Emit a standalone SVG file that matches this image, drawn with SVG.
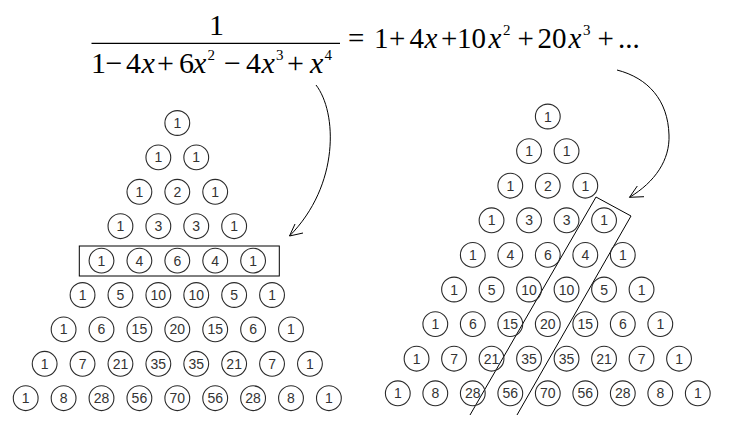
<svg xmlns="http://www.w3.org/2000/svg" width="729" height="427" viewBox="0 0 729 427">
<style>
.n circle{fill:none;stroke:#2a2a2a;stroke-width:1.1}
.n text{font-family:"Liberation Sans",Arial,sans-serif;font-size:14px;fill:#333;text-anchor:middle}
.m{font-family:"Liberation Serif","Times New Roman",serif;font-size:30px;fill:#000}
.r{font-family:"Liberation Serif","Times New Roman",serif;font-size:29px;fill:#000}
.i{font-style:italic}
.s{font-size:15px}
.ln{fill:none;stroke:#000;stroke-width:1}
</style>
<rect width="729" height="427" fill="#fff"/>
<g id="formula">
<text class="m" x="216.5" y="35" text-anchor="middle">1</text>
<line x1="91.5" y1="43.3" x2="340" y2="43.3" stroke="#000" stroke-width="1.3"/>
<text class="m" y="73.3"><tspan x="91">1</tspan><tspan x="105.5">−</tspan><tspan x="126">4</tspan><tspan x="141.5" class="i">x</tspan><tspan x="157">+</tspan><tspan x="179">6</tspan><tspan x="193" class="i">x</tspan><tspan x="207.5" y="60" class="s">2</tspan><tspan x="224" y="73.3">−</tspan><tspan x="246">4</tspan><tspan x="261.5" class="i">x</tspan><tspan x="276" y="60" class="s">3</tspan><tspan x="287" y="73.3">+</tspan><tspan x="310" class="i">x</tspan><tspan x="324.5" y="60" class="s">4</tspan></text>
<text class="r" y="47.5"><tspan x="348">=</tspan><tspan x="374">1</tspan><tspan x="389">+</tspan><tspan x="409.5">4</tspan><tspan x="424.5" class="i">x</tspan><tspan x="441">+</tspan><tspan x="457">10</tspan><tspan x="488.5" class="i">x</tspan><tspan x="503" y="34.5" class="s">2</tspan><tspan x="517.5" y="47.5">+</tspan><tspan x="537.5">20</tspan><tspan x="568.5" class="i">x</tspan><tspan x="583" y="34.5" class="s">3</tspan><tspan x="597.5" y="47.5">+</tspan><tspan x="618">...</tspan></text>
</g>
<g id="connectors">
<rect class="ln" x="79.3" y="246" width="200" height="30"/>
<polyline class="ln" points="470,415 596,197 631,216 517,415"/>
<path class="ln" d="M316,85 C337,112 340,185 289.5,236"/>
<polyline class="ln" points="295,224 289.5,236 303,233"/>
<path class="ln" d="M617,70 C648,78 668,100 669,135 C670,160 655,182 629.5,197.3"/>
<polyline class="ln" points="637.3,186 629.5,197.3 644,196.7"/>
</g>
<g id="left-triangle">
<g id="L0-0" class="n" transform="translate(177.3,123)"><circle r="12.4"/><text y="5">1</text></g>
<g id="L1-0" class="n" transform="translate(158.35,157.4)"><circle r="12.4"/><text y="5">1</text></g>
<g id="L1-1" class="n" transform="translate(196.25,157.4)"><circle r="12.4"/><text y="5">1</text></g>
<g id="L2-0" class="n" transform="translate(139.4,191.8)"><circle r="12.4"/><text y="5">1</text></g>
<g id="L2-1" class="n" transform="translate(177.3,191.8)"><circle r="12.4"/><text y="5">2</text></g>
<g id="L2-2" class="n" transform="translate(215.2,191.8)"><circle r="12.4"/><text y="5">1</text></g>
<g id="L3-0" class="n" transform="translate(120.45,226.2)"><circle r="12.4"/><text y="5">1</text></g>
<g id="L3-1" class="n" transform="translate(158.35,226.2)"><circle r="12.4"/><text y="5">3</text></g>
<g id="L3-2" class="n" transform="translate(196.25,226.2)"><circle r="12.4"/><text y="5">3</text></g>
<g id="L3-3" class="n" transform="translate(234.15,226.2)"><circle r="12.4"/><text y="5">1</text></g>
<g id="L4-0" class="n" transform="translate(101.5,260.6)"><circle r="12.4"/><text y="5">1</text></g>
<g id="L4-1" class="n" transform="translate(139.4,260.6)"><circle r="12.4"/><text y="5">4</text></g>
<g id="L4-2" class="n" transform="translate(177.3,260.6)"><circle r="12.4"/><text y="5">6</text></g>
<g id="L4-3" class="n" transform="translate(215.2,260.6)"><circle r="12.4"/><text y="5">4</text></g>
<g id="L4-4" class="n" transform="translate(253.1,260.6)"><circle r="12.4"/><text y="5">1</text></g>
<g id="L5-0" class="n" transform="translate(82.55,295)"><circle r="12.4"/><text y="5">1</text></g>
<g id="L5-1" class="n" transform="translate(120.45,295)"><circle r="12.4"/><text y="5">5</text></g>
<g id="L5-2" class="n" transform="translate(158.35,295)"><circle r="12.4"/><text y="5">10</text></g>
<g id="L5-3" class="n" transform="translate(196.25,295)"><circle r="12.4"/><text y="5">10</text></g>
<g id="L5-4" class="n" transform="translate(234.15,295)"><circle r="12.4"/><text y="5">5</text></g>
<g id="L5-5" class="n" transform="translate(272.05,295)"><circle r="12.4"/><text y="5">1</text></g>
<g id="L6-0" class="n" transform="translate(63.6,329.4)"><circle r="12.4"/><text y="5">1</text></g>
<g id="L6-1" class="n" transform="translate(101.5,329.4)"><circle r="12.4"/><text y="5">6</text></g>
<g id="L6-2" class="n" transform="translate(139.4,329.4)"><circle r="12.4"/><text y="5">15</text></g>
<g id="L6-3" class="n" transform="translate(177.3,329.4)"><circle r="12.4"/><text y="5">20</text></g>
<g id="L6-4" class="n" transform="translate(215.2,329.4)"><circle r="12.4"/><text y="5">15</text></g>
<g id="L6-5" class="n" transform="translate(253.1,329.4)"><circle r="12.4"/><text y="5">6</text></g>
<g id="L6-6" class="n" transform="translate(291,329.4)"><circle r="12.4"/><text y="5">1</text></g>
<g id="L7-0" class="n" transform="translate(44.65,363.8)"><circle r="12.4"/><text y="5">1</text></g>
<g id="L7-1" class="n" transform="translate(82.55,363.8)"><circle r="12.4"/><text y="5">7</text></g>
<g id="L7-2" class="n" transform="translate(120.45,363.8)"><circle r="12.4"/><text y="5">21</text></g>
<g id="L7-3" class="n" transform="translate(158.35,363.8)"><circle r="12.4"/><text y="5">35</text></g>
<g id="L7-4" class="n" transform="translate(196.25,363.8)"><circle r="12.4"/><text y="5">35</text></g>
<g id="L7-5" class="n" transform="translate(234.15,363.8)"><circle r="12.4"/><text y="5">21</text></g>
<g id="L7-6" class="n" transform="translate(272.05,363.8)"><circle r="12.4"/><text y="5">7</text></g>
<g id="L7-7" class="n" transform="translate(309.95,363.8)"><circle r="12.4"/><text y="5">1</text></g>
<g id="L8-0" class="n" transform="translate(25.7,398.2)"><circle r="12.4"/><text y="5">1</text></g>
<g id="L8-1" class="n" transform="translate(63.6,398.2)"><circle r="12.4"/><text y="5">8</text></g>
<g id="L8-2" class="n" transform="translate(101.5,398.2)"><circle r="12.4"/><text y="5">28</text></g>
<g id="L8-3" class="n" transform="translate(139.4,398.2)"><circle r="12.4"/><text y="5">56</text></g>
<g id="L8-4" class="n" transform="translate(177.3,398.2)"><circle r="12.4"/><text y="5">70</text></g>
<g id="L8-5" class="n" transform="translate(215.2,398.2)"><circle r="12.4"/><text y="5">56</text></g>
<g id="L8-6" class="n" transform="translate(253.1,398.2)"><circle r="12.4"/><text y="5">28</text></g>
<g id="L8-7" class="n" transform="translate(291,398.2)"><circle r="12.4"/><text y="5">8</text></g>
<g id="L8-8" class="n" transform="translate(328.9,398.2)"><circle r="12.4"/><text y="5">1</text></g>
</g>
<g id="right-triangle">
<g id="R0-0" class="n" transform="translate(547.8,116.5)"><circle r="12.4"/><text y="5">1</text></g>
<g id="R1-0" class="n" transform="translate(529.05,151.1)"><circle r="12.4"/><text y="5">1</text></g>
<g id="R1-1" class="n" transform="translate(566.55,151.1)"><circle r="12.4"/><text y="5">1</text></g>
<g id="R2-0" class="n" transform="translate(510.3,185.7)"><circle r="12.4"/><text y="5">1</text></g>
<g id="R2-1" class="n" transform="translate(547.8,185.7)"><circle r="12.4"/><text y="5">2</text></g>
<g id="R2-2" class="n" transform="translate(585.3,185.7)"><circle r="12.4"/><text y="5">1</text></g>
<g id="R3-0" class="n" transform="translate(491.55,220.3)"><circle r="12.4"/><text y="5">1</text></g>
<g id="R3-1" class="n" transform="translate(529.05,220.3)"><circle r="12.4"/><text y="5">3</text></g>
<g id="R3-2" class="n" transform="translate(566.55,220.3)"><circle r="12.4"/><text y="5">3</text></g>
<g id="R3-3" class="n" transform="translate(604.05,220.3)"><circle r="12.4"/><text y="5">1</text></g>
<g id="R4-0" class="n" transform="translate(472.8,254.9)"><circle r="12.4"/><text y="5">1</text></g>
<g id="R4-1" class="n" transform="translate(510.3,254.9)"><circle r="12.4"/><text y="5">4</text></g>
<g id="R4-2" class="n" transform="translate(547.8,254.9)"><circle r="12.4"/><text y="5">6</text></g>
<g id="R4-3" class="n" transform="translate(585.3,254.9)"><circle r="12.4"/><text y="5">4</text></g>
<g id="R4-4" class="n" transform="translate(622.8,254.9)"><circle r="12.4"/><text y="5">1</text></g>
<g id="R5-0" class="n" transform="translate(454.05,289.5)"><circle r="12.4"/><text y="5">1</text></g>
<g id="R5-1" class="n" transform="translate(491.55,289.5)"><circle r="12.4"/><text y="5">5</text></g>
<g id="R5-2" class="n" transform="translate(529.05,289.5)"><circle r="12.4"/><text y="5">10</text></g>
<g id="R5-3" class="n" transform="translate(566.55,289.5)"><circle r="12.4"/><text y="5">10</text></g>
<g id="R5-4" class="n" transform="translate(604.05,289.5)"><circle r="12.4"/><text y="5">5</text></g>
<g id="R5-5" class="n" transform="translate(641.55,289.5)"><circle r="12.4"/><text y="5">1</text></g>
<g id="R6-0" class="n" transform="translate(435.3,324.1)"><circle r="12.4"/><text y="5">1</text></g>
<g id="R6-1" class="n" transform="translate(472.8,324.1)"><circle r="12.4"/><text y="5">6</text></g>
<g id="R6-2" class="n" transform="translate(510.3,324.1)"><circle r="12.4"/><text y="5">15</text></g>
<g id="R6-3" class="n" transform="translate(547.8,324.1)"><circle r="12.4"/><text y="5">20</text></g>
<g id="R6-4" class="n" transform="translate(585.3,324.1)"><circle r="12.4"/><text y="5">15</text></g>
<g id="R6-5" class="n" transform="translate(622.8,324.1)"><circle r="12.4"/><text y="5">6</text></g>
<g id="R6-6" class="n" transform="translate(660.3,324.1)"><circle r="12.4"/><text y="5">1</text></g>
<g id="R7-0" class="n" transform="translate(416.55,358.7)"><circle r="12.4"/><text y="5">1</text></g>
<g id="R7-1" class="n" transform="translate(454.05,358.7)"><circle r="12.4"/><text y="5">7</text></g>
<g id="R7-2" class="n" transform="translate(491.55,358.7)"><circle r="12.4"/><text y="5">21</text></g>
<g id="R7-3" class="n" transform="translate(529.05,358.7)"><circle r="12.4"/><text y="5">35</text></g>
<g id="R7-4" class="n" transform="translate(566.55,358.7)"><circle r="12.4"/><text y="5">35</text></g>
<g id="R7-5" class="n" transform="translate(604.05,358.7)"><circle r="12.4"/><text y="5">21</text></g>
<g id="R7-6" class="n" transform="translate(641.55,358.7)"><circle r="12.4"/><text y="5">7</text></g>
<g id="R7-7" class="n" transform="translate(679.05,358.7)"><circle r="12.4"/><text y="5">1</text></g>
<g id="R8-0" class="n" transform="translate(397.8,393.3)"><circle r="12.4"/><text y="5">1</text></g>
<g id="R8-1" class="n" transform="translate(435.3,393.3)"><circle r="12.4"/><text y="5">8</text></g>
<g id="R8-2" class="n" transform="translate(472.8,393.3)"><circle r="12.4"/><text y="5">28</text></g>
<g id="R8-3" class="n" transform="translate(510.3,393.3)"><circle r="12.4"/><text y="5">56</text></g>
<g id="R8-4" class="n" transform="translate(547.8,393.3)"><circle r="12.4"/><text y="5">70</text></g>
<g id="R8-5" class="n" transform="translate(585.3,393.3)"><circle r="12.4"/><text y="5">56</text></g>
<g id="R8-6" class="n" transform="translate(622.8,393.3)"><circle r="12.4"/><text y="5">28</text></g>
<g id="R8-7" class="n" transform="translate(660.3,393.3)"><circle r="12.4"/><text y="5">8</text></g>
<g id="R8-8" class="n" transform="translate(697.8,393.3)"><circle r="12.4"/><text y="5">1</text></g>
</g>
</svg>
